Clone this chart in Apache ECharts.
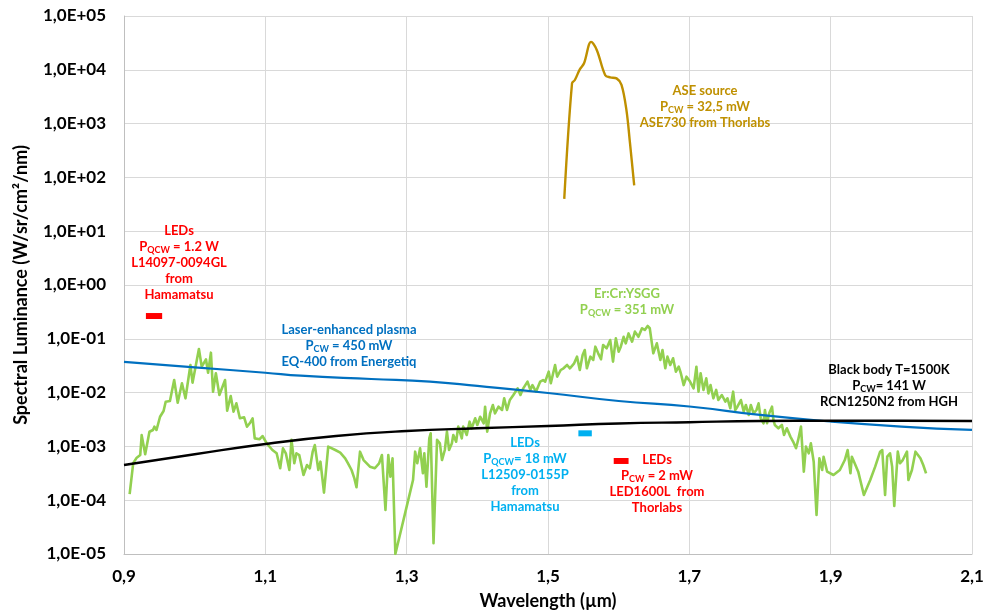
<!DOCTYPE html>
<html>
<head>
<meta charset="utf-8">
<script src="https://cdn.jsdelivr.net/npm/echarts@6/dist/echarts.min.js"></script>
<style>
  html, body { margin: 0; padding: 0; background: #fff; }
  #chart { width: 989px; height: 615px; }
</style>
</head>
<body>
<div id="chart"></div>
<script>
// Er:Cr:YSGG spectrum (wavelength in µm, luminance W/sr/cm²/nm)
const erX = [0.908, 0.913, 0.918, 0.923, 0.925, 0.930, 0.936, 0.941, 0.943, 0.946, 0.951, 0.956, 0.959, 0.965, 0.971, 0.976, 0.982, 0.987, 0.994, 0.997,
  1.006, 1.010, 1.016, 1.019, 1.023, 1.026, 1.030, 1.035, 1.043, 1.046, 1.051, 1.055, 1.059, 1.064, 1.070, 1.074, 1.078, 1.082, 1.085, 1.092,
  1.096, 1.102, 1.110, 1.116, 1.121, 1.125, 1.129, 1.134, 1.137, 1.141, 1.144, 1.148, 1.154, 1.159, 1.163, 1.167, 1.170, 1.175, 1.178, 1.183,
  1.189, 1.199, 1.206, 1.213, 1.217, 1.222, 1.226, 1.229, 1.234, 1.239, 1.248, 1.255, 1.261, 1.265, 1.270, 1.274, 1.277, 1.280, 1.284, 1.291,
  1.300, 1.309, 1.312, 1.315, 1.319, 1.323, 1.325, 1.328, 1.332, 1.334, 1.338, 1.343, 1.347, 1.350, 1.354, 1.357, 1.360, 1.364, 1.366, 1.370,
  1.373, 1.378, 1.380, 1.385, 1.389, 1.392, 1.397, 1.400, 1.404, 1.409, 1.411, 1.414, 1.418, 1.422, 1.425, 1.430, 1.435, 1.438, 1.442, 1.446,
  1.451, 1.457, 1.461, 1.465, 1.471, 1.475, 1.478, 1.483, 1.489, 1.493, 1.496, 1.501, 1.504, 1.510, 1.513, 1.518, 1.522, 1.527, 1.531, 1.537,
  1.541, 1.545, 1.549, 1.552, 1.555, 1.560, 1.564, 1.567, 1.571, 1.575, 1.578, 1.583, 1.588, 1.592, 1.596, 1.600, 1.603, 1.607, 1.610, 1.614,
  1.619, 1.623, 1.628, 1.633, 1.637, 1.641, 1.644, 1.649, 1.654, 1.659, 1.662, 1.666, 1.669, 1.673, 1.677, 1.681, 1.685, 1.688, 1.692, 1.696,
  1.701, 1.706, 1.710, 1.713, 1.716, 1.720, 1.724, 1.727, 1.730, 1.734, 1.738, 1.741, 1.746, 1.751, 1.754, 1.758, 1.762, 1.765, 1.768, 1.773,
  1.777, 1.780, 1.784, 1.787, 1.791, 1.795, 1.798, 1.801, 1.805, 1.807, 1.810, 1.813, 1.817, 1.819, 1.821, 1.826, 1.831, 1.834, 1.838, 1.843,
  1.847, 1.851, 1.854, 1.858, 1.862, 1.865, 1.869, 1.872, 1.876, 1.880, 1.884, 1.888, 1.890, 1.895, 1.904, 1.913, 1.920, 1.924, 1.928, 1.930,
  1.935, 1.939, 1.947, 1.956, 1.963, 1.970, 1.973, 1.977, 1.980, 1.984, 1.987, 1.990, 1.995, 1.998, 2.002, 2.008, 2.010, 2.015, 2.020, 2.027,
  2.031, 2.035];
const erY = [1.30e-4, 4.85e-4, 6.17e-4, 6.92e-4, 1.62e-3, 7.13e-4, 1.87e-3, 2.02e-3, 2.33e-3, 2.02e-3, 3.56e-3, 4.55e-3, 6.78e-3, 6.98e-3, 1.71e-2, 6.49e-3, 1.49e-2, 7.83e-3, 3.26e-2, 1.53e-2,
  6.46e-2, 3.03e-2, 4.16e-2, 2.34e-2, 5.52e-2, 1.04e-2, 2.29e-2, 9.02e-3, 1.71e-2, 4.61e-3, 8.65e-3, 4.42e-3, 6.32e-3, 3.33e-3, 3.47e-3, 2.33e-3, 2.69e-3, 3.33e-3, 1.41e-3, 1.36e-3,
  1.56e-3, 1.14e-3, 8.57e-4, 7.45e-4, 3.92e-4, 9.23e-4, 7.45e-4, 3.64e-4, 1.32e-3, 4.85e-4, 7.45e-4, 6.92e-4, 2.94e-4, 4.51e-4, 3.92e-4, 7.98e-4, 1.06e-3, 3.64e-4, 5.20e-4, 1.38e-4,
  9.89e-4, 8.57e-4, 7.66e-4, 6.01e-4, 4.85e-4, 3.64e-4, 2.55e-4, 1.74e-4, 7.98e-4, 5.58e-4, 4.20e-4, 3.92e-4, 4.85e-4, 6.92e-4, 6.58e-5, 6.92e-4, 2.74e-4, 6.01e-4, 1.0e-5, 2.43e-5,
  7.59e-5, 2.37e-4, 7.98e-4, 4.85e-4, 9.23e-4, 3.16e-4, 7.45e-4, 1.78e-4, 1.41e-3, 1.75e-3, 1.58e-5, 1.32e-3, 1.14e-3, 5.58e-4, 8.57e-4, 1.88e-3, 8.57e-4, 1.14e-3, 1.63e-3, 1.22e-3,
  2.33e-3, 1.41e-3, 2.33e-3, 1.63e-3, 2.88e-3, 2.17e-3, 3.33e-3, 2.50e-3, 3.56e-3, 2.69e-3, 5.47e-3, 1.88e-3, 4.12e-3, 5.89e-3, 4.12e-3, 5.47e-3, 4.75e-3, 7.83e-3, 4.75e-3, 7.28e-3,
  9.02e-3, 1.20e-2, 9.02e-3, 1.20e-2, 1.60e-2, 1.12e-2, 1.38e-2, 1.04e-2, 1.60e-2, 1.71e-2, 1.60e-2, 2.45e-2, 1.49e-2, 3.26e-2, 1.98e-2, 2.63e-2, 2.83e-2, 3.26e-2, 2.83e-2, 3.50e-2,
  4.66e-2, 2.63e-2, 5.00e-2, 6.19e-2, 2.83e-2, 4.66e-2, 4.04e-2, 7.14e-2, 5.37e-2, 4.16e-2, 7.67e-2, 6.65e-2, 9.51e-2, 3.76e-2, 1.02e-1, 5.75e-2, 7.14e-2, 1.09e-1, 8.24e-2, 1.26e-1,
  8.85e-2, 1.36e-1, 1.09e-1, 1.57e-1, 1.46e-1, 1.73e-1, 1.57e-1, 5.37e-2, 8.24e-2, 4.04e-2, 6.19e-2, 2.83e-2, 4.66e-2, 3.26e-2, 4.35e-2, 2.45e-2, 3.03e-2, 2.29e-2, 1.38e-2, 1.98e-2,
  1.60e-2, 1.20e-2, 3.03e-2, 1.04e-2, 2.29e-2, 1.12e-2, 1.84e-2, 9.68e-3, 1.38e-2, 7.83e-3, 1.12e-2, 7.28e-3, 9.02e-3, 6.78e-3, 7.83e-3, 5.11e-3, 1.04e-2, 4.75e-3, 5.47e-3, 7.28e-3,
  4.42e-3, 5.89e-3, 3.84e-3, 5.89e-3, 4.12e-3, 4.75e-3, 6.32e-3, 3.33e-3, 2.69e-3, 4.75e-3, 2.69e-3, 4.12e-3, 5.47e-3, 3.10e-3, 2.50e-3, 2.17e-3, 2.50e-3, 1.63e-3, 2.17e-3, 1.52e-3,
  1.22e-3, 9.23e-4, 1.32e-3, 2.33e-3, 3.39e-4, 9.89e-4, 7.45e-4, 1.14e-3, 5.20e-4, 5.31e-5, 6.01e-4, 3.64e-4, 6.44e-4, 3.39e-4, 2.94e-4, 3.64e-4, 5.58e-4, 8.57e-4, 3.16e-4, 6.44e-4,
  4.51e-4, 3.39e-4, 1.25e-4, 2.37e-4, 4.20e-4, 7.98e-4, 8.57e-4, 1.25e-4, 6.44e-4, 7.45e-4, 4.20e-4, 7.80e-5, 7.98e-4, 4.85e-4, 5.58e-4, 7.98e-4, 2.37e-4, 3.64e-4, 7.98e-4, 6.01e-4,
  4.51e-4, 3.16e-4];

// ASE source
const aseX = [1.523, 1.534, 1.538, 1.545, 1.551, 1.561, 1.569, 1.581, 1.588, 1.597, 1.604, 1.611, 1.616, 1.622];
const aseY = [40, 5.62e3, 6.46e3, 1.02e4, 1.32e4, 3.31e4, 2.34e4, 7.94e3, 7.24e3, 6.92e3, 5.25e3, 1.78e3, 4.37e2, 70.8];

// Laser-enhanced plasma
const plasmaX = [0.9, 1.0, 1.1, 1.15, 1.25, 1.333, 1.4, 1.5, 1.6, 1.7, 1.8, 1.9, 2.0, 2.1];
const plasmaY = [3.71e-2, 2.95e-2, 2.34e-2, 2.06e-2, 1.79e-2, 1.60e-2, 1.33e-2, 9.84e-3, 6.98e-3, 5.52e-3, 3.84e-3, 2.90e-3, 2.34e-3, 2.02e-3];

// Black body T=1500K
const bbX = [0.9, 1.0, 1.1, 1.2, 1.3, 1.4, 1.5, 1.6, 1.7, 1.8, 1.9, 2.0, 2.1];
const bbY = [4.51e-4, 7.13e-4, 1.11e-3, 1.56e-3, 1.93e-3, 2.17e-3, 2.39e-3, 2.67e-3, 2.82e-3, 2.96e-3, 3.0e-3, 3.0e-3, 2.96e-3];

// LED bars: [x start, x end, level]
const ledHamaNir = [0.931, 0.954, 0.265];
const ledHamaSwir = [1.543, 1.562, 1.75e-3];
const ledThorlabs = [1.593, 1.614, 5.36e-4];

const xTicks = { min: 0.9, max: 2.1, step: 0.2 };
const yTicks = { min: 1e-5, max: 1e5 };

const font = 'Lato, "Noto Sans", sans-serif';

function zip(xs, ys) {
    return xs.map(function (x, i) { return [x, ys[i]]; });
}
function bar(b) {
    return [[b[0], b[2]], [b[1], b[2]]];
}

function lineSeries(name, data, color, width, smooth) {
    return {
        name: name,
        type: 'line',
        data: data,
        showSymbol: false,
        symbol: 'none',
        smooth: smooth || false,
        lineStyle: { color: color, width: width, join: 'round' },
        silent: true,
        z: 3
    };
}

// annotation text blocks with subscripts
function note(x, y, color, lines) {
    let rich = {
        n: { fill: color, font: 'bold 13px ' + font, lineHeight: 16, verticalAlign: 'middle' },
        s: { fill: color, font: 'bold 9px ' + font, lineHeight: 16, verticalAlign: 'bottom' }
    };
    return {
        type: 'text',
        x: x,
        y: y,
        z: 10,
        style: {
            text: lines.join('\n'),
            rich: rich,
            fill: color,
            font: 'bold 13px ' + font,
            align: 'center',
            verticalAlign: 'top',
            lineHeight: 16
        }
    };
}

function expLabel(v) {
    let e = Math.round(Math.log10(v));
    return '1,0E' + (e < 0 ? '-' : '+') + String(Math.abs(e)).padStart(2, '0');
}

let option = {
    backgroundColor: '#fff',
    animation: false,
    grid: { left: 124, right: 17, top: 16, bottom: 61 },
    xAxis: {
        type: 'value',
        min: xTicks.min,
        max: xTicks.max,
        interval: xTicks.step,
        name: 'Wavelength (µm)',
        nameLocation: 'middle',
        nameGap: 38,
        nameTextStyle: { fontFamily: font, fontWeight: 'bold', fontSize: 18, color: '#000' },
        axisLine: { show: true, lineStyle: { color: '#bfbfbf' } },
        axisTick: { show: false },
        axisLabel: {
            fontFamily: font, fontWeight: 'bold', fontSize: 17, color: '#000', margin: 14,
            formatter: function (v) { return v.toFixed(1).replace('.', ','); }
        },
        splitLine: { show: true, lineStyle: { color: '#d9d9d9' } }
    },
    yAxis: {
        type: 'log',
        logBase: 10,
        min: yTicks.min,
        max: yTicks.max,
        interval: 1,
        splitNumber: 10,
        name: 'Spectral Luminance (W/sr/cm²/nm)',
        nameLocation: 'middle',
        nameGap: 94,
        nameTextStyle: { fontFamily: font, fontWeight: 'bold', fontSize: 18, color: '#000' },
        axisLine: { show: true, lineStyle: { color: '#bfbfbf' } },
        axisTick: { show: false },
        axisLabel: {
            fontFamily: font, fontWeight: 'bold', fontSize: 17, color: '#000', margin: 18,
            formatter: expLabel
        },
        splitLine: { show: true, lineStyle: { color: '#d9d9d9' } }
    },
    series: [
        lineSeries('Er:Cr:YSGG', zip(erX, erY), '#92D050', 2.6),
        lineSeries('Laser-enhanced plasma', zip(plasmaX, plasmaY), '#0070C0', 2.2, true),
        lineSeries('Black body', zip(bbX, bbY), '#000000', 2.4, true),
        lineSeries('ASE source', zip(aseX, aseY), '#BF9000', 2.4, 0.35),
        lineSeries('LEDs Hamamatsu NIR', bar(ledHamaNir), '#FF0000', 6),
        lineSeries('LEDs Hamamatsu SWIR', bar(ledHamaSwir), '#00B0F0', 6),
        lineSeries('LEDs Thorlabs', bar(ledThorlabs), '#FF0000', 6)
    ],
    graphic: [
        note(179, 223, '#FF0000', ['{n|LEDs}', '{n|P}{s|QCW}{n| = 1.2 W}', '{n|L14097-0094GL}', '{n|from}', '{n|Hamamatsu}']),
        note(349, 322, '#0070C0', ['{n|Laser-enhanced plasma}', '{n|P}{s|CW}{n| = 450 mW}', '{n|EQ-400 from Energetiq}']),
        note(627, 286, '#92D050', ['{n|Er:Cr:YSGG}', '{n|P}{s|QCW}{n| = 351 mW}']),
        note(705, 83, '#BF9000', ['{n|ASE source}', '{n|P}{s|CW}{n| = 32,5 mW}', '{n|ASE730 from Thorlabs}']),
        note(889, 362, '#000000', ['{n|Black body T=1500K}', '{n|P}{s|CW}{n|= 141 W}', '{n|RCN1250N2 from HGH}']),
        note(525, 435, '#00B0F0', ['{n|LEDs}', '{n|P}{s|QCW}{n|= 18 mW}', '{n|L12509-0155P}', '{n|from}', '{n|Hamamatsu}']),
        note(657, 452, '#FF0000', ['{n|LEDs}', '{n|P}{s|CW}{n| = 2 mW}', '{n|LED1600L  from}', '{n|Thorlabs}'])
    ]
};

var myChart = echarts.init(document.getElementById('chart'));
myChart.setOption(option);
</script>
</body>
</html>
